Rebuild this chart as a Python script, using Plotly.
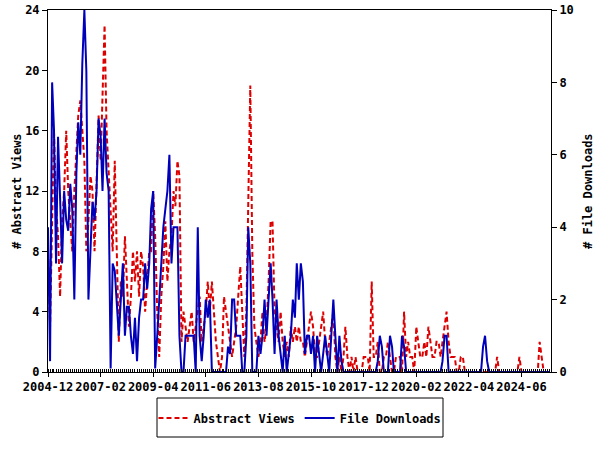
import plotly.graph_objects as go
import pandas as pd

# Monthly abstract views (left axis)
views = [
    8, 3, 10, 16, 11, 9, 5, 10, 12, 16,
    12, 10, 8, 12, 15, 17, 18, 16, 14, 8,
    10, 13, 12, 8, 13, 17, 14, 18, 23, 16,
    13, 10, 8, 14, 9, 2, 6, 5, 9, 6,
    3, 5, 8, 6, 8, 5, 8, 7, 4, 6,
    8, 8, 12, 9, 4, 1, 5, 7, 10, 6,
    8, 9, 12, 11, 14, 13, 2, 4, 3, 2,
    3, 4, 2, 3, 4, 5, 2, 3, 4, 6,
    4, 6, 4, 2, 1, 0, 1, 5, 4, 3,
    2, 1, 2, 3, 5, 7, 4, 1, 4, 10,
    19, 8, 3, 2, 1, 2, 4, 2, 3, 6,
    10, 10, 4, 3, 2, 4, 2, 1, 2, 1,
    3, 2, 3, 2, 3, 2, 2, 1, 2, 3,
    4, 3, 1, 1, 2, 3, 4, 2, 1, 2,
    3, 4, 1, 0, 1, 0, 1, 3, 1, 0,
    1, 0, 1, 0, 0, 0, 1, 1, 1, 0,
    6, 1, 1, 2, 0, 0, 1, 1, 2, 1,
    0, 0, 1, 1, 1, 0, 4, 1, 2, 1,
    1, 0, 3, 2, 1, 1, 2, 1, 3, 2,
    1, 1, 2, 2, 1, 2, 3, 4, 2, 1,
    1, 1, 0, 0, 1, 1, 0, 0, 0, 0,
    0, 0, 0, 0, 0, 0, 0, 0, 0, 0,
    0, 0, 1, 0, 0, 0, 0, 0, 0, 0,
    0, 0, 0, 1, 0, 0, 0, 0, 0, 0,
    0, 0, 0, 2, 1, 0, 0, 0, 0,
]

# Monthly file downloads (right axis)
downloads = [
    4.0, 0.3, 8.0, 6.7, 3.0, 6.5, 4.8, 3.0, 5.0, 4.2,
    3.9, 5.2, 4.5, 2.0, 5.5, 6.9, 6.0, 8.5, 10.0, 8.3,
    2.0, 3.2, 4.7, 4.2, 5.0, 7.0, 6.5, 5.0, 7.0, 5.5,
    5.0, 0.1, 3.0, 2.8, 2.0, 1.0, 2.0, 3.0, 1.0, 1.8,
    1.8, 1.0, 0.5, 1.5, 0.3, 1.5, 2.0, 2.0, 3.0, 2.3,
    3.0, 4.5, 5.0, 0.1, 1.0, 2.0, 3.0, 4.0, 4.5, 5.0,
    6.0, 3.0, 4.0, 4.0, 4.0, 1.0, 0, 0, 1.0, 1.0,
    1.0, 1.0, 1.0, 0, 4.0, 1.0, 0.3, 1.0, 2.0, 1.5,
    2.0, 0, 0, 0, 0, 0, 0, 0, 0, 0.7,
    0.5, 2.0, 2.0, 1.0, 1.0, 1.0, 0, 0, 1.0, 4.0,
    3.0, 0, 0, 0, 1.0, 0.5, 1.0, 2.0, 1.0, 2.0,
    3.0, 2.0, 0.5, 2.0, 1.0, 0.5, 0, 1.0, 0, 0.5,
    1.0, 2.0, 1.5, 3.0, 2.0, 3.0, 2.5, 0.5, 1.0, 1.0,
    0.5, 1.0, 0, 1.0, 0.5, 0, 0.5, 1.0, 0.5, 0,
    1.0, 2.0, 1.0, 0, 1.0, 0.3, 0, 0, 0, 0,
    0, 0, 0, 0, 0, 0, 0, 0, 0, 0,
    0, 0, 0, 0.3, 1.0, 0.7, 0, 0, 0, 1.0,
    0.7, 0, 0, 0, 0, 1.0, 0.7, 0, 0, 0,
    0, 0, 0, 0, 0, 0, 0, 0, 0, 0,
    0, 0, 0, 0, 0, 0.3, 1.0, 1.0, 0, 0,
    0, 0, 0, 0, 0, 0, 0, 0, 0, 0,
    0, 0, 0, 0, 0, 0.7, 1.0, 0.3, 0, 0,
    0, 0, 0, 0, 0, 0, 0, 0, 0, 0,
    0, 0, 0, 0, 0, 0, 0, 0, 0, 0,
    0, 0, 0, 0, 0, 0, 0, 0, 0,
]

start_month = "2004-12-01"
end_range = "2025-08-19"
tick_labels = ["2004-12", "2007-02", "2009-04", "2011-06", "2013-08",
               "2015-10", "2017-12", "2020-02", "2022-04", "2024-06"]
left_ticks = [0, 4, 8, 12, 16, 20, 24]
right_ticks = [0, 2, 4, 6, 8, 10]
left_title = "# Abstract Views"
right_title = "# File Downloads"

months = pd.date_range(start_month, periods=len(views), freq="MS")
tickvals = [t + "-01" for t in tick_labels]

FONT = "DejaVu Sans Mono"
RED = "#dd0000"
BLUE = "#0000bb"

W, H = 600, 450
ML, MR, MT, MB = 48, 49, 10, 78
PW, PH = W - ML - MR, H - MT - MB


def px_x(x):
    return (x - ML) / PW


def px_y(y):
    return (H - MB - y) / PH


fig = go.Figure()
fig.add_trace(go.Scatter(
    x=months, y=views, name="Abstract Views", mode="lines",
    line=dict(color=RED, width=2, dash="5px,3px"), yaxis="y",
))
fig.add_trace(go.Scatter(
    x=months, y=downloads, name="File Downloads", mode="lines",
    line=dict(color=BLUE, width=2), yaxis="y2",
))

tickfont = dict(family=FONT, size=12, color="black", weight="bold")
titlefont = dict(family=FONT, size=12, color="black", weight="bold")
axis_common = dict(
    showline=True, linecolor="black", linewidth=1, showgrid=False,
    zeroline=False, tickcolor="black", tickfont=tickfont, automargin=False,
)

fig.update_layout(
    width=W, height=H,
    margin=dict(l=ML, r=MR, t=MT, b=MB),
    paper_bgcolor="white", plot_bgcolor="white",
    font=dict(family=FONT, size=12, color="black", weight="bold"),
    xaxis=dict(
        type="date", range=[start_month, end_range],
        tickmode="array", tickvals=tickvals, ticktext=tick_labels,
        tickangle=0, ticks="outside", ticklen=4, mirror=True,
        minor=dict(tickmode="linear", tick0=start_month, dtick="M1",
                   ticks="inside", ticklen=3, tickcolor="black", showgrid=False),
        **axis_common,
    ),
    yaxis=dict(
        range=[0, 24], tickmode="array", tickvals=left_ticks,
        ticks="outside", ticklen=5,
        **axis_common,
    ),
    yaxis2=dict(
        range=[0, 10], tickmode="array", tickvals=right_ticks,
        overlaying="y", side="right", ticks="outside", ticklen=5,
        **axis_common,
    ),
    legend=dict(
        orientation="h", x=px_x(300), xanchor="center",
        y=px_y(418), yanchor="middle",
        borderwidth=0, bgcolor="rgba(0,0,0,0)",
        font=dict(family=FONT, size=12, color="black", weight="bold"),
        itemwidth=30,
    ),
    showlegend=True,
    shapes=[dict(
        type="rect", xref="paper", yref="paper",
        x0=px_x(157), x1=px_x(443), y0=px_y(398), y1=px_y(437),
        line=dict(color="black", width=1), fillcolor="rgba(0,0,0,0)",
    )],
    annotations=[
        dict(text=left_title, xref="paper", yref="paper",
             x=px_x(17), y=0.5, textangle=-90, showarrow=False,
             xanchor="center", yanchor="middle", font=titlefont),
        dict(text=right_title, xref="paper", yref="paper",
             x=px_x(588), y=0.5, textangle=-90, showarrow=False,
             xanchor="center", yanchor="middle", font=titlefont),
    ],
)

fig.write_html(
    "out.html",
    config={"displayModeBar": False},
    post_script="document.body.style.margin='0';document.body.style.overflow='hidden';",
)
